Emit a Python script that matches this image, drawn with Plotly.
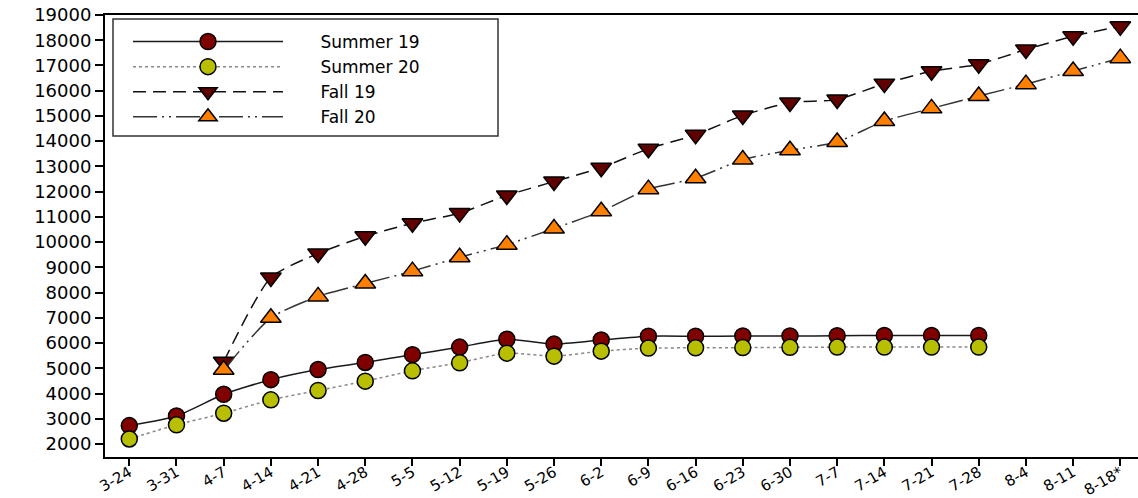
import plotly.graph_objects as go

categories = ["3-24", "3-31", "4-7", "4-14", "4-21", "4-28", "5-5", "5-12", "5-19", "5-26",
              "6-2", "6-9", "6-16", "6-23", "6-30", "7-7", "7-14", "7-21", "7-28", "8-4",
              "8-11", "8-18*"]

summer19 = [2730, 3110, 3970, 4550, 4950, 5230, 5540, 5840, 6150, 5960, 6120, 6270, 6270,
            6280, 6280, 6290, 6300, 6300, 6300, None, None, None]
summer20 = [2200, 2760, 3220, 3750, 4120, 4490, 4900, 5220, 5600, 5480, 5680, 5800, 5810,
            5820, 5830, 5840, 5840, 5840, 5840, None, None, None]
fall19 = [None, None, 5260, 8600, 9550, 10230, 10750, 11150, 11850, 12400, 12950, 13700,
          14250, 15020, 15530, 15650, 16280, 16770, 17050, 17630, 18160, 18550]
fall20 = [None, None, 4940, 7000, 7850, 8360, 8850, 9400, 9900, 10540, 11220, 12100, 12530,
          13270, 13640, 13970, 14800, 15300, 15790, 16260, 16780, 17290]

series_names = ["Summer 19", "Summer 20", "Fall 19", "Fall 20"]
y_ticks = list(range(2000, 19001, 1000))

FONT = "DejaVu Sans"
PAD = "\u00a0" * 6

fig = go.Figure()
fig.add_trace(go.Scatter(
    x=categories, y=summer19, name=PAD + series_names[0], mode="lines+markers",
    line=dict(color="#1a1a1a", width=1.5, shape="spline", smoothing=0.6),
    marker=dict(symbol="circle", size=16, color="#800000", line=dict(color="black", width=1.5))))
fig.add_trace(go.Scatter(
    x=categories, y=summer20, name=PAD + series_names[1], mode="lines+markers",
    line=dict(color="#888888", width=1.5, dash="dot", shape="spline", smoothing=0.6),
    marker=dict(symbol="circle", size=16, color="#B8BE00", line=dict(color="black", width=1.5))))
fig.add_trace(go.Scatter(
    x=categories, y=fall19, name=PAD + series_names[2], mode="lines+markers",
    line=dict(color="#111111", width=1.5, dash="13px,7px", shape="spline", smoothing=0.6),
    marker=dict(symbol="triangle-down", size=18, color="#600000", line=dict(color="black", width=1.5))))
fig.add_trace(go.Scatter(
    x=categories, y=fall20, name=PAD + series_names[3], mode="lines+markers",
    line=dict(color="#333333", width=1.5, dash="24px,5px,2px,5px,2px,5px", shape="spline", smoothing=0.6),
    marker=dict(symbol="triangle-up", size=18, color="#FF8000", line=dict(color="black", width=1.5))))

# body margin is removed by the post script, so figure pixels = page pixels
OFF = 0
W, H = 1138 - OFF, 498 - OFF
PLOT_L, PLOT_R, PLOT_T, PLOT_B = 105 - OFF, 1138 - OFF, 15 - OFF, 457 - OFF
pw, ph = PLOT_R - PLOT_L, PLOT_B - PLOT_T

def px_x(x_page):
    return (x_page - OFF - PLOT_L) / pw

def px_y(y_page):
    return (PLOT_B - (y_page - OFF)) / ph

fig.update_layout(
    width=W, height=H,
    margin=dict(l=PLOT_L, r=W - PLOT_R, t=PLOT_T, b=H - PLOT_B, autoexpand=False),
    paper_bgcolor="white", plot_bgcolor="white",
    font=dict(family=FONT, size=18, color="black"),
    showlegend=True,
    legend=dict(
        x=px_x(128), y=px_y(24), xanchor="left", yanchor="top",
        bgcolor="rgba(0,0,0,0)", borderwidth=0,
        font=dict(family=FONT, size=17, color="black"),
        itemwidth=150, tracegroupgap=0,
    ),
    shapes=[dict(type="rect", xref="paper", yref="paper",
                 x0=px_x(113), x1=px_x(498), y0=px_y(136), y1=px_y(19),
                 line=dict(color="#333333", width=1.5), fillcolor="rgba(0,0,0,0)", layer="above")],
    xaxis=dict(
        type="category", range=[-0.515, 21.375], automargin=False,
        showgrid=False, zeroline=False,
        showline=True, linecolor="black", linewidth=2, mirror=True,
        ticks="outside", ticklen=7, tickwidth=1.5, tickcolor="black",
        tickangle=-30, tickfont=dict(family=FONT, size=15),
        ticklabelstandoff=-8,
    ),
    yaxis=dict(
        range=[1485, 19000], tickvals=y_ticks, tickformat="d", automargin=False,
        ticklabeloverflow="allow",
        showgrid=False, zeroline=False,
        showline=True, linecolor="black", linewidth=2,
        ticks="outside", ticklen=8, tickwidth=1.5, tickcolor="black",
        tickfont=dict(family=FONT, size=18),
    ),
)

fig.write_html("out.html", config={"displayModeBar": False},
               post_script="document.body.style.margin='0';document.body.style.overflow='hidden';")
